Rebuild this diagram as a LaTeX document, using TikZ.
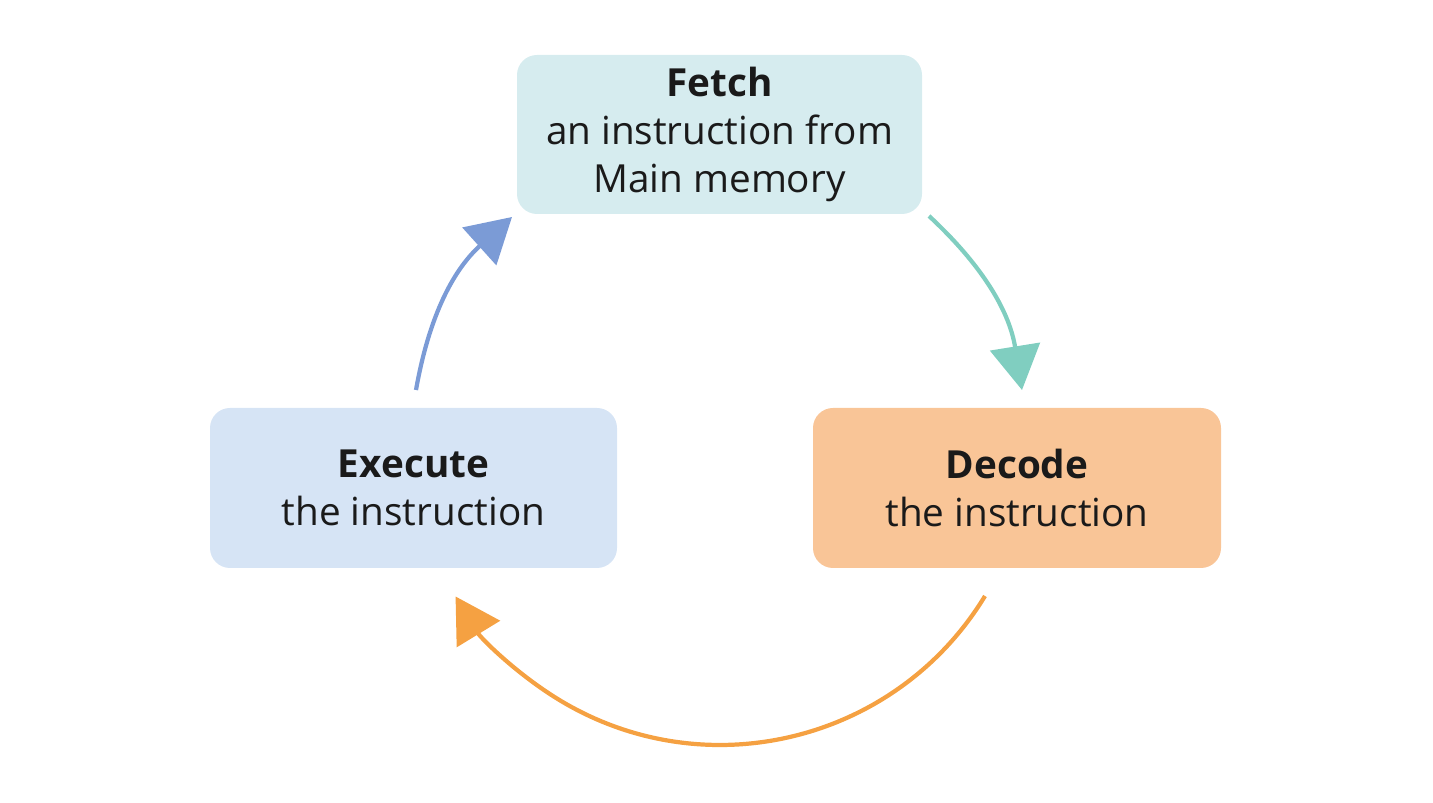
\documentclass[tikz,border=0pt]{standalone}
\usepackage{fontspec}
\setmainfont{Open Sans}
\usetikzlibrary{arrows.meta}
\definecolor{fetchfill}{HTML}{D6ECEF}
\definecolor{execfill}{HTML}{D6E4F5}
\definecolor{decfill}{HTML}{F9C597}
\definecolor{tealarrow}{HTML}{80CEC0}
\definecolor{bluearrow}{HTML}{7B9BD6}
\definecolor{orangearrow}{HTML}{F5A142}
\definecolor{txt}{HTML}{1A1A1A}
\tikzset{
  stagebox/.style={rounded corners=20*0.01cm, inner sep=0pt, text=txt,
    align=center, font=\fontsize{11pt}{13.6pt}\selectfont},
  cyclearrow/.style={line width=1.2pt, -{Triangle[length=4.4mm,width=5mm]}}
}
\begin{document}
\begin{tikzpicture}[x=0.01cm,y=0.01cm]
\useasboundingbox (0,0) rectangle (1433,803);
\node[stagebox, fill=fetchfill, minimum width=405*0.01cm, minimum height=159*0.01cm]
  (fetch) at (719.5,668.5) {\textbf{Fetch}\\an instruction from\\Main memory};
\node[stagebox, fill=execfill, minimum width=407*0.01cm, minimum height=160*0.01cm]
  (execute) at (413.5,315) {\textbf{Execute}\\the instruction};
\node[stagebox, fill=decfill, minimum width=408*0.01cm, minimum height=160*0.01cm]
  (decode) at (1017,315) {\textbf{Decode}\\the instruction};
\coordinate (fd1) at (929,587);
\coordinate (fd2) at (1022,413);
\coordinate (de1) at (985,207);
\coordinate (ef1) at (416,413);
\coordinate (ef2) at (512,586);
\draw[cyclearrow, draw=tealarrow] (fd1) to[bend left=19] (fd2);
\draw[cyclearrow, draw=orangearrow] (de1) arc[start angle=-31.3, end angle=-148.6, radius=310];
\draw[cyclearrow, draw=bluearrow] (ef1) to[bend left=19] (ef2);
\end{tikzpicture}
\end{document}
